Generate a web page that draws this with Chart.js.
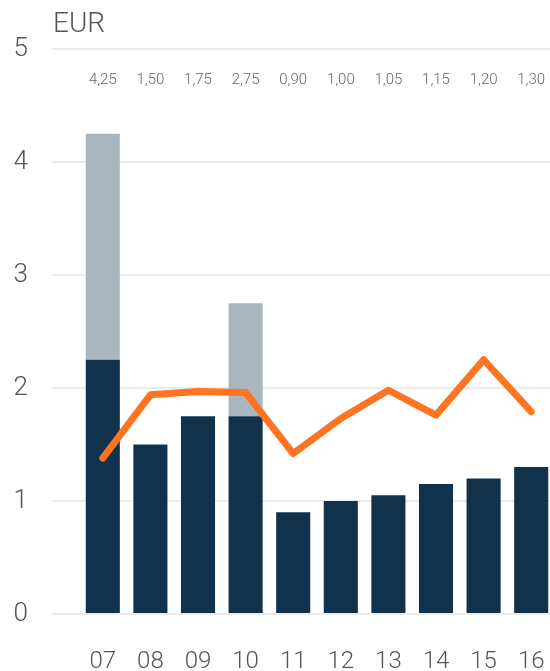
<!DOCTYPE html>
<html>
<head>
<meta charset="utf-8">
<script src="https://cdn.jsdelivr.net/npm/chart.js@4.4.1/dist/chart.umd.min.js"></script>
<style>
  html, body { margin: 0; padding: 0; background: #fff; overflow: hidden; width: 550px; height: 671px; }
  #wrap { width: 560px; height: 671px; }
</style>
</head>
<body>
<div id="wrap"><canvas id="myChart" width="560" height="671"></canvas></div>
<script>
// Daten
const years = ["07", "08", "09", "10", "11", "12", "13", "14", "15", "16"];
const baseDividend = [2.25, 1.50, 1.75, 1.75, 0.90, 1.00, 1.05, 1.15, 1.20, 1.30];
const specialDividend = [2.00, 0, 0, 1.00, 0, 0, 0, 0, 0, 0];
const earnings = [1.38, 1.94, 1.97, 1.96, 1.42, 1.73, 1.98, 1.76, 2.25, 1.79];
const yTicks = [0, 1, 2, 3, 4, 5];
const totalLabelLevel = 4.72; // Höhe der Summen-Beschriftung

const fontFamily = "'Roboto', 'Liberation Sans', sans-serif";

// Summen über den Balken
const totalsPlugin = {
    id: 'totals',
    afterDatasetsDraw(chart) {
        const ctx = chart.ctx;
        const x = chart.scales.x, y = chart.scales.y;
        ctx.save();
        ctx.font = '300 15px ' + fontFamily;
        ctx.fillStyle = '#666';
        ctx.textAlign = 'center';
        ctx.textBaseline = 'middle';
        years.forEach((yr, i) => {
            const total = baseDividend[i] + specialDividend[i];
            ctx.fillText(total.toFixed(2).replace('.', ','), x.getPixelForValue(i), y.getPixelForValue(totalLabelLevel));
        });
        ctx.restore();
    }
};

// Einheit oben links
const unitPlugin = {
    id: 'unit',
    afterDraw(chart) {
        const ctx = chart.ctx;
        ctx.save();
        ctx.font = '300 28px ' + fontFamily;
        ctx.fillStyle = '#555';
        ctx.textAlign = 'left';
        ctx.textBaseline = 'middle';
        ctx.fillText('EUR', chart.chartArea.left - 26, chart.chartArea.top - 24);
        ctx.restore();
    }
};

const ctx = document.getElementById('myChart').getContext('2d');
new Chart(ctx, {
    type: 'bar',
    data: {
        labels: years,
        datasets: [{
            type: 'line',
            data: earnings,
            borderColor: '#ff7420',
            borderWidth: 7,
            borderCapStyle: 'round',
            borderJoinStyle: 'round',
            pointRadius: 0,
            tension: 0,
            order: 0
        }, {
            data: baseDividend,
            backgroundColor: '#12324b',
            stack: 'div',
            order: 1
        }, {
            data: specialDividend,
            backgroundColor: '#aab6bf',
            stack: 'div',
            order: 1
        }]
    },
    options: {
        responsive: false,
        maintainAspectRatio: false,
        animation: false,
        events: [],
        layout: { padding: { top: 49, right: 5, left: 0, bottom: 0 } },
        datasets: {
            bar: { categoryPercentage: 1, barPercentage: 0.716 }
        },
        plugins: {
            legend: { display: false },
            tooltip: { enabled: false }
        },
        scales: {
            x: {
                stacked: true,
                grid: { display: false, drawTicks: true, tickLength: 34 },
                border: { display: false },
                ticks: {
                    color: '#555',
                    padding: 0,
                    font: { family: fontFamily, size: 24, weight: 300 }
                },
                afterFit(scale) { scale.height = 57; }
            },
            y: {
                stacked: true,
                min: 0,
                max: 5,
                afterBuildTicks(scale) { scale.ticks = yTicks.map(v => ({ value: v })); },
                grid: { color: '#ebebeb', lineWidth: 2, tickLength: 27, tickColor: '#ebebeb' },
                border: { display: false },
                ticks: {
                    color: '#555',
                    padding: 24,
                    font: { family: fontFamily, size: 26, weight: 300 }
                },
                afterFit(scale) { scale.width = 79; }
            }
        }
    },
    plugins: [totalsPlugin, unitPlugin]
});
</script>
</body>
</html>
